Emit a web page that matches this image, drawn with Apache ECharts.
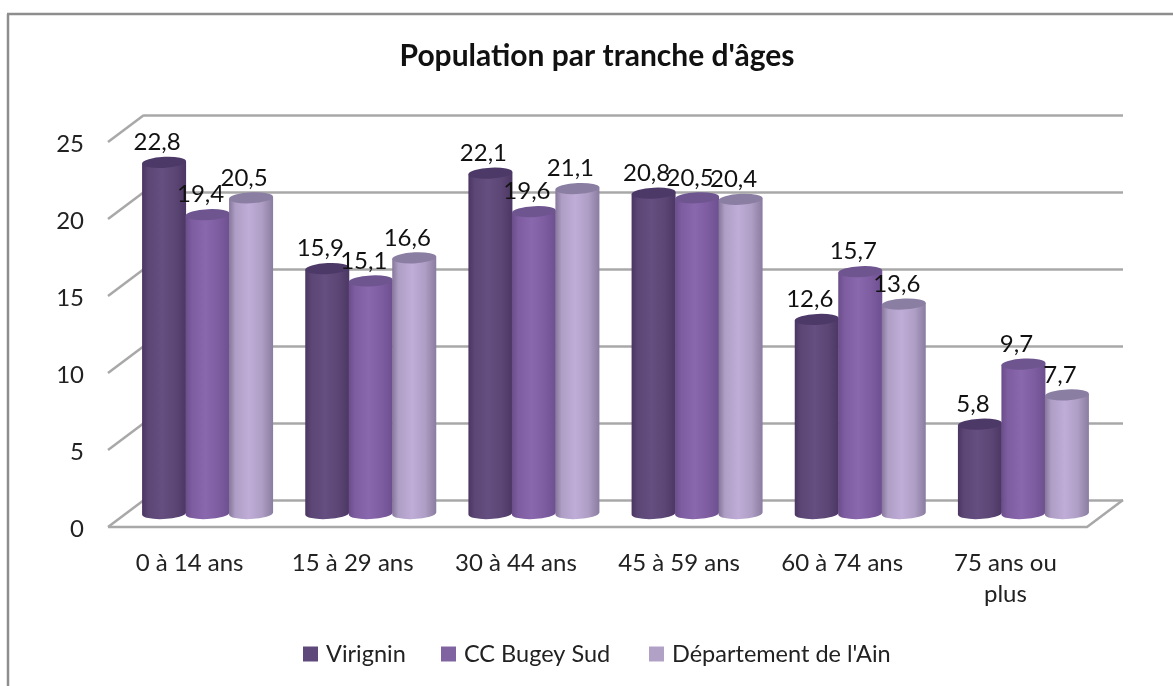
<!DOCTYPE html>
<html>
<head>
<meta charset="utf-8">
<style>
html, body { margin: 0; padding: 0; background: #fff; }
#chart { width: 1173px; height: 686px; }
</style>
<script src="https://cdn.jsdelivr.net/npm/echarts@6/dist/echarts.min.js"></script>
</head>
<body>
<div id="chart"></div>
<script>
var categories = ['0 à 14 ans', '15 à 29 ans', '30 à 44 ans', '45 à 59 ans', '60 à 74 ans', '75 ans ou\nplus'];
var virignin = [22.8, 15.9, 22.1, 20.8, 12.6, 5.8];
var bugeySud = [19.4, 15.1, 19.6, 20.5, 15.7, 9.7];
var ain = [20.5, 16.6, 21.1, 20.4, 13.6, 7.7];
var seriesNames = ['Virignin', 'CC Bugey Sud', "Département de l'Ain"];
var yTicks = [0, 5, 10, 15, 20, 25];

var FONT = 'Lato';
var DEPTH_X = 36, DEPTH_Y = 27;   // décalage du mur du fond
var PITCH = 43.5, BAR_W = 44;
var GREY = '#a8a8a8';

// couleurs : bord gauche, près du bord, centre, bord droit, dessus
var shades = [
    { edge: '#4a3562', near: '#5b4675', mid: '#654e80', edge2: '#4c3764', cap: '#4d3968', legend: '#5f497a' },
    { edge: '#6a4d8a', near: '#7d5ca0', mid: '#8a68ae', edge2: '#6d5090', cap: '#6e5590', legend: '#8064a2' },
    { edge: '#85769a', near: '#ae9dc4', mid: '#bfadd8', edge2: '#8a7ca0', cap: '#8b7ea3', legend: '#b2a1c7' }
];

function fr(v) {
    return v.toFixed(1).replace('.', ',');
}

function cylinder(idx) {
    return function (params, api) {
        var c = shades[idx];
        var top = api.coord([api.value(0), api.value(1)]);
        var base = api.coord([api.value(0), 0]);
        var cx = top[0] + DEPTH_X / 2 + (idx - 1) * PITCH;
        var yTop = top[1] - DEPTH_Y / 2;
        var yBase = base[1] - DEPTH_Y / 2;
        var rx = BAR_W / 2, ry = 5.5, tilt = 3;
        var l = cx - rx, r = cx + rx;
        var body = 'M' + l + ' ' + (yTop + 1) + 'L' + l + ' ' + (yBase + 1) +
            'A' + rx + ' ' + ry + ' ' + (-tilt) + ' 0 0 ' + r + ' ' + (yBase - 1) +
            'L' + r + ' ' + (yTop - 1) + 'Z';
        var cap = 'M' + l + ' ' + (yTop + 1) +
            'A' + rx + ' ' + ry + ' ' + (-tilt) + ' 0 1 ' + r + ' ' + (yTop - 1) +
            'A' + rx + ' ' + ry + ' ' + (-tilt) + ' 0 1 ' + l + ' ' + (yTop + 1) + 'Z';
        return {
            type: 'group',
            children: [
                {
                    type: 'path',
                    z2: 10 + idx,
                    shape: { pathData: body },
                    style: {
                        fill: new echarts.graphic.LinearGradient(0, 0, 1, 0, [
                            { offset: 0, color: c.edge },
                            { offset: 0.14, color: c.near },
                            { offset: 0.45, color: c.mid },
                            { offset: 0.75, color: c.near },
                            { offset: 1, color: c.edge2 }
                        ])
                    }
                },
                {
                    type: 'path',
                    z2: 10 + idx,
                    shape: { pathData: cap },
                    style: { fill: c.cap }
                },
                {
                    type: 'text',
                    z2: 50,
                    x: cx - 7,
                    y: yTop - 20,
                    style: {
                        text: fr(api.value(1)),
                        fontFamily: FONT,
                        fontSize: 24,
                        fill: '#111',
                        align: 'center',
                        verticalAlign: 'middle'
                    }
                }
            ]
        };
    };
}

function barSeries(idx, values) {
    return {
        name: seriesNames[idx],
        type: 'custom',
        xAxisIndex: 0,
        yAxisIndex: 0,
        itemStyle: { color: shades[idx].legend },
        encode: { x: 0, y: 1 },
        data: values.map(function (v, i) { return [i, v]; }),
        renderItem: cylinder(idx)
    };
}

function legendAt(name, left) {
    return {
        data: [name],
        left: left,
        top: 642,
        padding: 0,
        icon: 'rect',
        itemWidth: 15,
        itemHeight: 15,
        textStyle: { fontFamily: FONT, fontSize: 23.5, color: '#222', padding: [0, 0, 0, 3] }
    };
}

// traits obliques à gauche et plancher
var frameSeries = {
    type: 'custom',
    xAxisIndex: 0,
    yAxisIndex: 0,
    silent: true,
    z: 1,
    data: yTicks.map(function (t) { return [0, t]; }),
    encode: { x: 0, y: 1 },
    renderItem: function (params, api) {
        var grid = params.coordSys;
        var y = api.coord([0, api.value(1)])[1];
        var lineStyle = { stroke: GREY, lineWidth: 2.5, fill: null };
        var children = [{
            type: 'line',
            shape: { x1: grid.x, y1: y, x2: grid.x + DEPTH_X, y2: y - DEPTH_Y },
            style: lineStyle
        }];
        if (api.value(1) === 0) {
            children.push({
                type: 'polyline',
                shape: {
                    points: [
                        [grid.x, y],
                        [grid.x + grid.width, y],
                        [grid.x + grid.width + DEPTH_X, y - DEPTH_Y]
                    ]
                },
                style: lineStyle
            });
        }
        return { type: 'group', children: children };
    }
};

var myChart = echarts.init(document.getElementById('chart'));
var option = {
    animation: false,
    backgroundColor: '#fff',
    textStyle: { fontFamily: FONT },
    title: {
        text: "Population par tranche d'âges",
        left: 592,
        top: 36,
        textAlign: 'center',
        textStyle: { fontFamily: FONT, fontSize: 30, fontWeight: 'bold', color: '#111' }
    },
    legend: [
        legendAt(seriesNames[0], 303),
        legendAt(seriesNames[1], 441),
        legendAt(seriesNames[2], 649)
    ],
    graphic: [
        { type: 'line', shape: { x1: 7, y1: 14, x2: 1173, y2: 14 }, style: { stroke: '#8e8e8e', lineWidth: 2.5 } },
        { type: 'line', shape: { x1: 8, y1: 14, x2: 8, y2: 686 }, style: { stroke: '#8e8e8e', lineWidth: 2.5 } }
    ],
    grid: [
        { left: 108, top: 142, width: 979, height: 385 },
        { left: 144, top: 115, width: 979, height: 385 }
    ],
    xAxis: [
        {
            type: 'category',
            gridIndex: 0,
            data: categories,
            axisLine: { show: false },
            axisTick: { show: false },
            axisLabel: {
                interval: 0,
                margin: 21,
                fontFamily: FONT,
                fontSize: 24,
                lineHeight: 31,
                color: '#222'
            }
        },
        {
            type: 'category',
            gridIndex: 1,
            data: categories,
            axisLine: { show: false },
            axisTick: { show: false },
            axisLabel: { show: false }
        }
    ],
    yAxis: [
        {
            type: 'value',
            gridIndex: 0,
            min: 0,
            max: 25,
            interval: 5,
            axisLine: { show: false },
            axisTick: { show: false },
            splitLine: { show: false },
            axisLabel: {
                margin: 24,
                formatter: '{t|{value}}',
                rich: { t: { fontFamily: FONT, fontSize: 24, color: '#222', padding: [4, 0, 0, 0] } }
            }
        },
        {
            type: 'value',
            gridIndex: 1,
            min: 0,
            max: 25,
            interval: 5,
            axisLine: { show: false },
            axisTick: { show: false },
            axisLabel: { show: false },
            splitLine: { show: true, lineStyle: { color: GREY, width: 2.5 } }
        }
    ],
    series: [
        frameSeries,
        barSeries(0, virignin),
        barSeries(1, bugeySud),
        barSeries(2, ain)
    ]
};
myChart.setOption(option);
</script>
</body>
</html>
